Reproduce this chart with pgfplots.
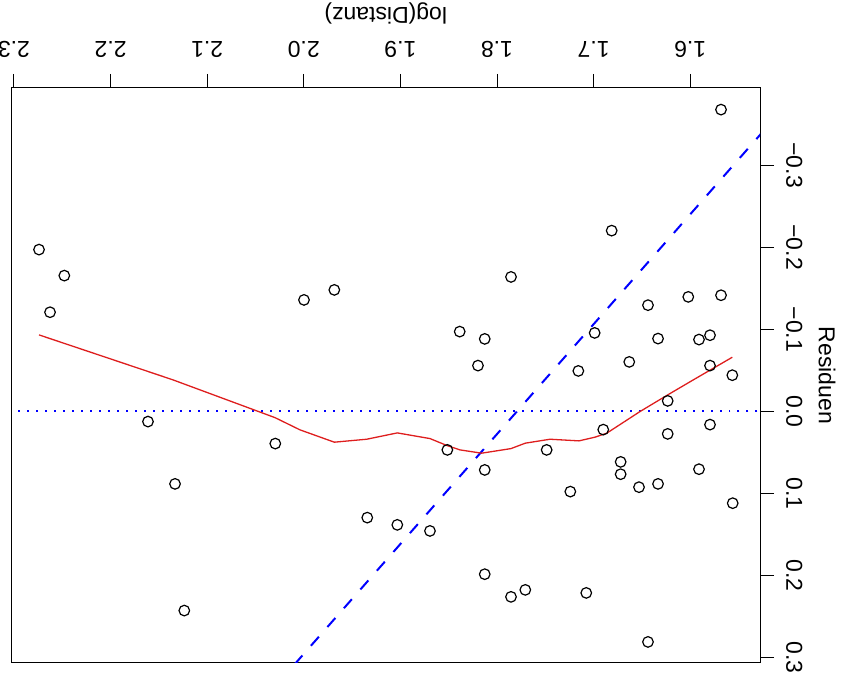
\documentclass[border=0pt]{standalone}
\usepackage{fontspec}
\setmainfont{Liberation Sans}
\usepackage{pgfplots}
\usepackage{pgfplotstable}
\pgfplotsset{compat=1.18}
\pgfplotstableread{
x y
2.2741 -0.1971
2.2479 -0.1654
2.2627 -0.1208
2.1613 0.0124
2.0295 0.0392
2.1333 0.0883
2.1237 0.2426
1.9998 -0.1358
1.9684 -0.1480
1.7855 -0.1638
1.8386 -0.0972
1.8127 -0.0883
1.8197 -0.0558
1.8514 0.0469
1.8127 0.0713
1.9343 0.1294
1.9032 0.1382
1.8694 0.1456
1.8127 0.1983
1.7855 0.2259
1.7707 0.2174
1.7486 0.0469
1.5681 -0.3676
1.6813 -0.2202
1.6437 -0.1294
1.6020 -0.1395
1.5681 -0.1415
1.6989 -0.0956
1.6333 -0.0887
1.5909 -0.0875
1.5795 -0.0928
1.7158 -0.0493
1.6631 -0.0603
1.5795 -0.0558
1.5564 -0.0441
1.6233 -0.0128
1.6900 0.0222
1.6233 0.0274
1.5795 0.0161
1.6720 0.0615
1.6720 0.0765
1.6530 0.0923
1.6333 0.0883
1.5909 0.0704
1.7241 0.0977
1.5560 0.1118
1.7076 0.2211
1.6437 0.2808
}\pts
\pgfplotstableread{
x y
2.2741 -0.0932
2.1354 -0.0384
2.0298 0.0076
2.0039 0.0225
1.9684 0.0375
1.9349 0.0339
1.9032 0.0262
1.8694 0.0331
1.8515 0.0417
1.8383 0.0469
1.8159 0.0509
1.7855 0.0453
1.7707 0.0387
1.7451 0.0339
1.7151 0.0359
1.6986 0.0314
1.6865 0.0266
1.6520 0.0002
1.6233 -0.0201
1.5968 -0.0384
1.5564 -0.0660
}\smooth
\definecolor{rred}{RGB}{222,30,30}
\begin{document}
\begin{tikzpicture}[x=1pt,y=1pt]
\begin{axis}[
  name=ax,
  scale only axis, width=749pt, height=575pt,
  x dir=reverse, y dir=reverse,
  xmin=1.5277, xmax=2.3026, ymin=-0.394, ymax=0.306,
  axis line style={black, line width=1pt},
  tick style={black, line width=1pt},
  tick align=outside, major tick length=14pt,
  xtick={1.6,1.7,1.8,1.9,2.0,2.1,2.2,2.3},
  xticklabels={1.6,1.7,1.8,1.9,2.0,2.1,2.2,2.3},
  ytick={-0.3,-0.2,-0.1,0,0.1,0.2,0.3},
  yticklabels={−0.3,−0.2,−0.1,0.0,0.1,0.2,0.3},
  xtick pos=upper, xticklabel pos=upper,
  ytick pos=upper, yticklabel pos=upper,
  xticklabel shift=16pt, yticklabel shift=12pt,
  xticklabel style={rotate=180, anchor=north, inner sep=0pt, font=\fontsize{23}{27}\selectfont},
  yticklabel style={rotate=-90, anchor=south, inner sep=0pt, font=\fontsize{23}{27}\selectfont},
  xlabel={log(Distanz)},
  xlabel style={rotate=180, anchor=center, at={(axis description cs:0.5,1.1304)}, inner sep=0pt, font=\fontsize{23}{27}\selectfont},
  ylabel={Residuen},
  ylabel style={rotate=-180, anchor=center, at={(axis description cs:1.0895,0.5)}, inner sep=0pt, font=\fontsize{23}{27}\selectfont},
  clip=true,
]
\addplot[blue, line width=2pt, dash pattern=on 2pt off 7pt] coordinates {(1.4,0) (2.4,0)};
\addplot[blue, line width=2pt, dash pattern=on 12pt off 13pt] coordinates {(2.3,0.6969) (1.5,-0.3739)};
\addplot[rred, line width=1.3pt] table[x=x,y=y] {\smooth};
\addplot[only marks, mark=o, mark size=5.3pt, mark options={line width=1.2pt, black}] table[x=x,y=y] {\pts};
\end{axis}
\pgfresetboundingbox
\path[use as bounding box] ([xshift=-11.5pt,yshift=-21pt]ax.south west) rectangle ([xshift=86pt,yshift=88pt]ax.north east);
\end{tikzpicture}
\end{document}
